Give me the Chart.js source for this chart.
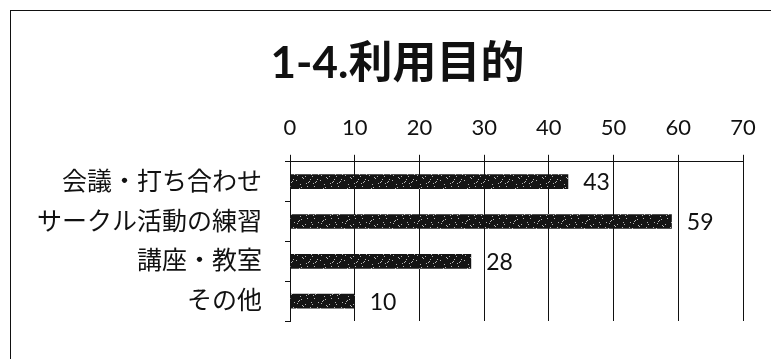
<!DOCTYPE html>
<html lang="ja">
<head>
<meta charset="utf-8">
<script src="https://cdn.jsdelivr.net/npm/chart.js@4/dist/chart.umd.min.js"></script>
<style>
  html, body { margin: 0; padding: 0; background: #fff; }
  .frame {
    position: absolute; left: 10px; top: 10px; width: 800px; height: 400px;
    border-left: 1.5px solid #111; border-top: 1.5px solid #111;
  }
  .wrap { position: absolute; left: 0; top: 0; width: 771px; height: 359px; }
</style>
</head>
<body>
<div class="frame"></div>
<div class="wrap"><canvas id="purpose-chart"></canvas></div>
<script>
'use strict';

// 利用目的 — 件数
const categories = ['会議・打ち合わせ', 'サークル活動の練習', '講座・教室', 'その他'];
const counts = [43, 59, 28, 10];
const axisMin = 0;
const axisMax = 70;
const axisStep = 10;

const FONT = 'Lato, "Noto Sans CJK JP", sans-serif';
const INK = '#111';

// speckled dark fill for the bars (printed-halftone look)
function speckleFill() {
  const c = document.createElement('canvas');
  c.width = 24; c.height = 16;
  const g = c.getContext('2d');
  g.fillStyle = '#141414';
  g.fillRect(0, 0, 24, 16);
  g.fillStyle = 'rgba(235,235,235,0.75)';
  for (let y = 0; y < 16; y++) {
    for (let x = 0; x < 24; x++) {
      if (((x * 7 + y * 13 + x * y * 3) % 17) === 0) g.fillRect(x, y, 1, 1);
    }
  }
  return g.createPattern(c, 'repeat');
}

// value labels just past the end of each bar
const valueLabels = {
  id: 'valueLabels',
  afterDatasetsDraw(chart) {
    const { ctx } = chart;
    const meta = chart.getDatasetMeta(0);
    ctx.save();
    ctx.font = `23px ${FONT}`;
    ctx.fillStyle = INK;
    ctx.textAlign = 'left';
    ctx.textBaseline = 'middle';
    meta.data.forEach((bar, i) => {
      ctx.fillText(String(counts[i]), bar.x + 15, bar.y + 1);
    });
    ctx.restore();
  }
};

// centre the title a little right of the canvas middle
const titleShift = {
  id: 'titleShift',
  afterLayout(chart) {
    if (chart.titleBlock) chart.titleBlock.left += 52;
  }
};

new Chart(document.getElementById('purpose-chart'), {
  type: 'bar',
  data: {
    labels: categories,
    datasets: [{
      data: counts,
      backgroundColor: speckleFill(),
      borderWidth: 0,
      categoryPercentage: 1,
      barPercentage: 0.37,
    }],
  },
  plugins: [valueLabels, titleShift],
  options: {
    indexAxis: 'y',
    responsive: true,
    maintainAspectRatio: false,
    animation: false,
    layout: { padding: { left: 0, right: 28, top: 0, bottom: 23 } },
    plugins: {
      legend: { display: false },
      tooltip: { enabled: false },
      title: {
        display: true,
        text: '1-4.利用目的',
        color: INK,
        font: { family: FONT, size: 44, weight: 'bold' },
        padding: { top: 37, bottom: 0 },
      },
    },
    scales: {
      x: {
        position: 'top',
        min: axisMin,
        max: axisMax,
        afterFit: (s) => { s.height = 72; },
        ticks: { stepSize: axisStep, color: INK, padding: 14, font: { family: FONT, size: 22 } },
        grid: { color: INK, lineWidth: 1, tickLength: 7 },
        border: { color: INK, width: 1 },
      },
      y: {
        afterFit: (s) => { s.width = 290; },
        ticks: { color: INK, padding: 23, font: { family: FONT, size: 25 } },
        grid: { display: true, drawOnChartArea: false, offset: true, color: INK, tickLength: 5 },
        border: { color: INK, width: 1 },
      },
    },
  },
});
</script>
</body>
</html>
